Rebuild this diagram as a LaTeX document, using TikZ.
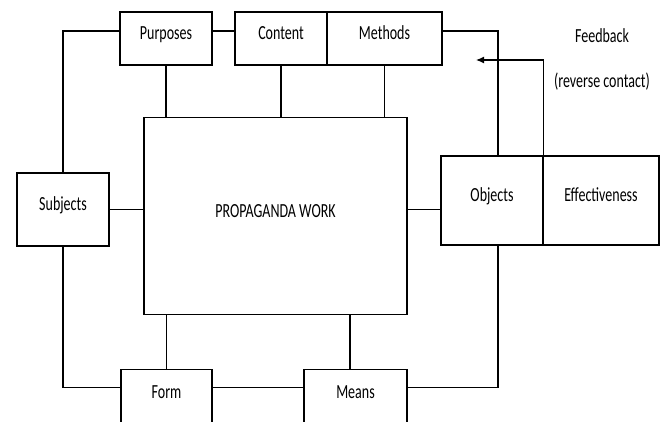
\documentclass[tikz,border=0pt]{standalone}
\usepackage{fontspec}
\setmainfont{Carlito}[FakeStretch=0.7]
\usetikzlibrary{arrows.meta}

\tikzset{box/.style={draw,inner sep=0pt,text height=9pt,text depth=7pt,
    font=\fontsize{20}{23}\selectfont},
  lbl/.style={inner sep=0pt,font=\fontsize{20}{23}\selectfont}}

\begin{document}
\begin{tikzpicture}[x=1pt,y=-1pt,line width=1.2pt]
\clip (0,0) rectangle (668,422);

% top row
\node[box,minimum width=92,minimum height=53] (purp) at (166,38.5) {Purposes};
\node[box,minimum width=92,minimum height=53] (cont) at (281,38.5) {Content};
\node[box,minimum width=115,minimum height=53] (meth) at (384.5,38.5) {Methods};

% centre and sides
\node[box,minimum width=263,minimum height=197] (main) at (275.5,216) {PROPAGANDA WORK};
\node[box,minimum width=92,minimum height=73] (subj) at (63,209.5) {Subjects};
\node[box,minimum width=102,minimum height=89] (obj) at (492,200.5) {Objects};
\node[box,minimum width=116,minimum height=89] (eff) at (601,200.5) {Effectiveness};

% bottom row (cut by the frame)
\node[box,minimum width=91,minimum height=55] (form) at (166.5,397) {Form};
\node[box,minimum width=103,minimum height=55] (means) at (355.5,397) {Means};

% feedback
\node[lbl] (fb) at (602,36) {Feedback};
\node[lbl] (rc) at (602,82) {(reverse contact)};
\coordinate (fbend) at (476,60);
\draw[-{Latex[length=8pt,width=7pt]}] (obj.north east) |- (fbend);

% outer ring
\draw ([yshift=7.5]purp.east) -- ([yshift=7.5]cont.west);
\draw ([yshift=7.5]purp.west) -| (subj.north);
\draw (subj.south) |- ([yshift=9.3]form.west);
\draw ([yshift=9.3]form.east) -- ([yshift=9.3]means.west);
\draw ([yshift=9.3]means.east) -| ([xshift=6]obj.south);
\draw ([yshift=7.5]meth.east) -| ([xshift=6]obj.north);

% links to the centre
\draw (purp.south) -- (purp.south |- main.north);
\draw (cont.south) -- (cont.south |- main.north);
\draw (meth.south) -- (meth.south |- main.north);
\draw (subj.east) -- (subj.east -| main.west);
\draw (subj.east -| main.east) -- (subj.east -| obj.west);
\draw (form.north) -- (form.north |- main.south);
\draw ([xshift=-5.5]means.north) -- ([xshift=-5.5]means.north |- main.south);

\end{tikzpicture}
\end{document}
